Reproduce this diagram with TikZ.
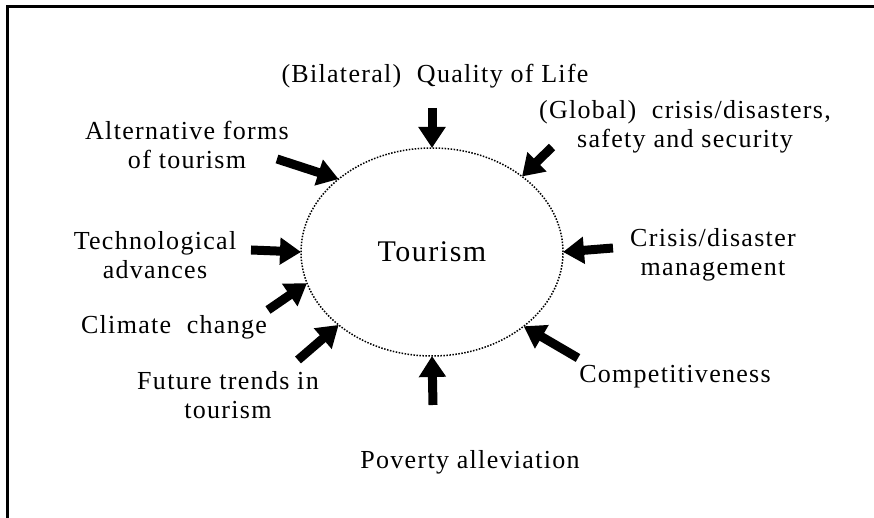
\documentclass[tikz,border=0pt]{standalone}
\usepackage{fontspec}
\setmainfont[LetterSpace=5]{Liberation Serif}
\usepackage{tikz}
\usetikzlibrary{arrows.meta, shapes.geometric}

\tikzset{
  label/.style={align=center, inner sep=0pt, font=\fontsize{26}{29}\selectfont},
  pusharrow/.style={line width=9pt, -{Triangle[length=21pt, width=26pt]}}
}

\begin{document}
\begin{tikzpicture}[x=1pt, y=1pt]

    \useasboundingbox (0,0) rectangle (874,518);

    % Frame (top and left edges only)
    \draw[line width=3pt] (7,0) -- (7,511) -- (874,511);

    % Central ellipse
    \node[ellipse, draw, line width=1.5pt, dash pattern=on 1.5pt off 1.5pt,
          inner sep=0pt, outer sep=0pt,
          minimum width=262pt, minimum height=208pt,
          font=\fontsize{30}{34}\selectfont] (tour) at (432,266) {Tourism};

    % Factor labels
    \node[label] (qol)  at (435,442) {(Bilateral)\ \ Quality of Life};
    \node[label] (glob) at (685,391) {(Global)\ \ crisis/disasters,\\safety and security};
    \node[label] (alt)  at (187,373) {Alternative forms\\of tourism};
    \node[label] (tech) at (155,263) {Technological\\advances};
    \node[label] (clim) at (174,191) {Climate\ \ change};
    \node[label] (fut)  at (228,123) {Future trends in\\tourism};
    \node[label] (pov)  at (470,56)  {Poverty alleviation};
    \node[label] (comp) at (675,141) {Competitiveness};
    \node[label] (cris) at (713,263) {Crisis/disaster\\management};

    % Arrow tails
    \coordinate (qolT)  at (432,410);
    \coordinate (globT) at (552,371);
    \coordinate (altT)  at (277,359);
    \coordinate (techT) at (251,268);
    \coordinate (climT) at (268,208);
    \coordinate (futT)  at (298,158);
    \coordinate (povT)  at (433,113);
    \coordinate (compT) at (578,160);
    \coordinate (crisT) at (613,270);

    % Arrows pointing at the ellipse
    \foreach \tail/\ang in {qolT/90, globT/40, altT/142, techT/180, climT/194,
                            futT/218, povT/270, compT/321, crisT/0}
        \draw[pusharrow] (\tail) -- (tour.\ang);

\end{tikzpicture}
\end{document}
